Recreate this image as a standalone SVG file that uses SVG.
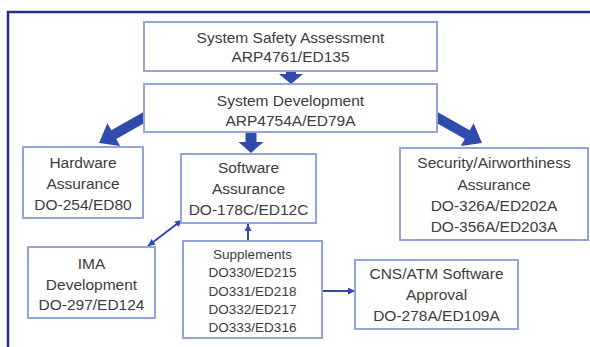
<svg xmlns="http://www.w3.org/2000/svg" width="590" height="347" viewBox="0 0 590 347">
<style>
.box{fill:#fff;stroke:#93a5d8;stroke-width:2}
.t{font-family:"Liberation Sans",Arial,sans-serif;font-size:15.5px;fill:#3c3c3c;text-anchor:middle}
.s{font-size:13.5px}
.big{fill:#2f4bac}
.thin{stroke:#2f4bac;stroke-width:2;fill:none}
</style>
<defs>
<path id="bigArrow" d="M0,0 L-17,-13 L-17,-5 L-60,-5 L-60,5 L-17,5 L-17,13 Z"/>
<marker id="ah" viewBox="0 0 10 10" refX="10" refY="5" markerWidth="7" markerHeight="7" markerUnits="userSpaceOnUse" orient="auto-start-reverse">
<path d="M0,0 L10,5 L0,10 z" fill="#2f4bac"/>
</marker>
</defs>
<rect x="0" y="0" width="590" height="347" fill="#fff"/>
<path d="M8,347 L8,12 L590,12" fill="none" stroke="#25308e" stroke-width="2.5"/>
<g id="connectors">
<use href="#bigArrow" class="big" transform="translate(99,143) rotate(150.5)"/>
<use href="#bigArrow" class="big" transform="translate(482,143) rotate(29.5)"/>
<polygon class="big" points="286,70 296,70 296,74 303,74 291,84 279,74 286,74"/>
<polygon class="big" points="245.5,132 256.5,132 256.5,142 263.5,142 251,153 238.5,142 245.5,142"/>
<line class="thin" x1="148" y1="246" x2="182" y2="220" marker-start="url(#ah)" marker-end="url(#ah)"/>
<line class="thin" x1="248" y1="241" x2="248" y2="224" marker-end="url(#ah)"/>
<line class="thin" x1="322" y1="291" x2="355" y2="291" marker-end="url(#ah)"/>
</g>
<g id="ssa">
<rect class="box" x="144" y="22" width="293" height="49"/>
<text class="t" x="290.5" y="42.5">System Safety Assessment</text>
<text class="t" x="290.5" y="62">ARP4761/ED135</text>
</g>
<g id="sysdev">
<rect class="box" x="144" y="84" width="293" height="48"/>
<text class="t" x="290.5" y="106">System Development</text>
<text class="t" x="290.5" y="125.5">ARP4754A/ED79A</text>
</g>
<g id="hardware">
<rect class="box" x="23" y="147" width="120" height="71"/>
<text class="t" x="83" y="168">Hardware</text>
<text class="t" x="83" y="189">Assurance</text>
<text class="t" x="83" y="210">DO-254/ED80</text>
</g>
<g id="software">
<rect class="box" x="181" y="154" width="135" height="69"/>
<text class="t" x="248.5" y="173">Software</text>
<text class="t" x="248.5" y="194">Assurance</text>
<text class="t" x="248.5" y="215">DO-178C/ED12C</text>
</g>
<g id="security">
<rect class="box" x="400" y="148" width="188" height="92"/>
<text class="t" x="494" y="168">Security/Airworthiness</text>
<text class="t" x="494" y="190">Assurance</text>
<text class="t" x="494" y="211">DO-326A/ED202A</text>
<text class="t" x="494" y="232">DO-356A/ED203A</text>
</g>
<g id="ima">
<rect class="box" x="28" y="247" width="127" height="71"/>
<text class="t" x="91.5" y="269">IMA</text>
<text class="t" x="91.5" y="290">Development</text>
<text class="t" x="91.5" y="310">DO-297/ED124</text>
</g>
<g id="supplements">
<rect class="box" x="183" y="241" width="139" height="97"/>
<text class="t s" x="252.5" y="258.7">Supplements</text>
<text class="t s" x="252.5" y="276.7">DO330/ED215</text>
<text class="t s" x="252.5" y="295.7">DO331/ED218</text>
<text class="t s" x="252.5" y="313.7">DO332/ED217</text>
<text class="t s" x="252.5" y="331.7">DO333/ED316</text>
</g>
<g id="cns">
<rect class="box" x="355" y="260" width="163" height="69"/>
<text class="t" x="436.5" y="279">CNS/ATM Software</text>
<text class="t" x="436.5" y="300">Approval</text>
<text class="t" x="436.5" y="321">DO-278A/ED109A</text>
</g>
</svg>
